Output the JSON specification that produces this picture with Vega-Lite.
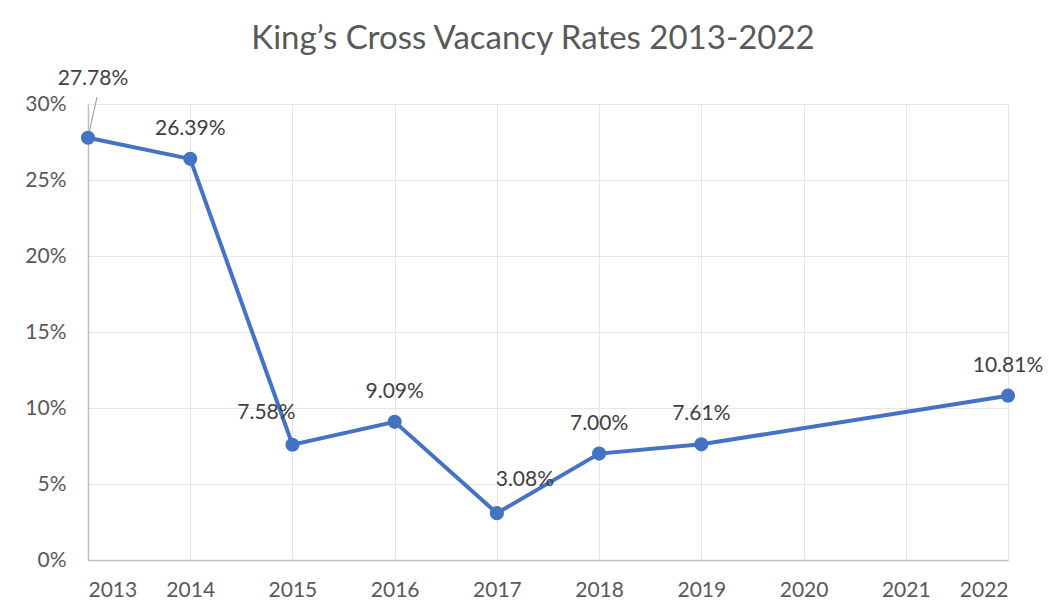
{
  "$schema": "https://vega.github.io/schema/vega-lite/v6.json",
  "width": 920,
  "height": 456,
  "autosize": "none",
  "padding": {"left": 88, "top": 104, "right": 41, "bottom": 56},
  "background": "white",
  "config": {
    "view": {"stroke": null},
    "font": "Lato",
    "axis": {"gridColor": "#e6e6e6", "gridWidth": 1, "domainColor": "#bfbfbf", "domainWidth": 1.5, "ticks": false, "labelColor": "#595959", "labelFont": "Lato", "labelFontSize": 21, "title": null}
  },
  "title": {"text": "King’s Cross Vacancy Rates 2013-2022", "font": "Lato", "fontSize": 33, "fontWeight": "normal", "color": "#595959", "anchor": "middle", "dx": -15, "offset": 12},
  "data": {"values": [
    {"year": 2013, "rate": 0.2778, "label": "27.78%"},
    {"year": 2014, "rate": 0.2639, "label": "26.39%"},
    {"year": 2015, "rate": 0.0758, "label": "7.58%"},
    {"year": 2016, "rate": 0.0909, "label": "9.09%"},
    {"year": 2017, "rate": 0.0308, "label": "3.08%"},
    {"year": 2018, "rate": 0.0700, "label": "7.00%"},
    {"year": 2019, "rate": 0.0761, "label": "7.61%"},
    {"year": 2022, "rate": 0.1081, "label": "10.81%"}
  ]},
  "encoding": {
    "x": {"field": "year", "type": "quantitative", "scale": {"domain": [2013, 2022], "nice": false, "zero": false},
      "axis": {"values": [2013, 2014, 2015, 2016, 2017, 2018, 2019, 2020, 2021, 2022], "format": "d", "labelPadding": 19, "domain": true}},
    "y": {"field": "rate", "type": "quantitative", "scale": {"domain": [0, 0.3], "nice": false},
      "axis": {"values": [0, 0.05, 0.1, 0.15, 0.2, 0.25, 0.3], "format": ".0%", "labelPadding": 22}}
  },
  "layer": [
    {
      "transform": [{"filter": "datum.year == 2013"}],
      "mark": {"type": "rule", "color": "#a6a6a6", "strokeWidth": 1.2, "clip": false},
      "encoding": {"x2": {"datum": 2013.088}, "y2": {"datum": 0.3046}}
    },
    {"mark": {"type": "line", "color": "#4472C4", "strokeWidth": 4}},
    {"mark": {"type": "point", "filled": true, "color": "#4472C4", "size": 200, "opacity": 1}},
    {
      "transform": [{"filter": "datum.year == 2014 || datum.year == 2016 || datum.year == 2018 || datum.year == 2019 || datum.year == 2022"}],
      "mark": {"type": "text", "fontSize": 21, "color": "#404040", "dy": -30, "baseline": "middle", "font": "Lato"},
      "encoding": {"text": {"field": "label"}}
    },
    {
      "transform": [{"filter": "datum.year == 2013"}],
      "mark": {"type": "text", "fontSize": 21, "color": "#404040", "dx": 5, "dy": -59, "baseline": "middle", "font": "Lato"},
      "encoding": {"text": {"field": "label"}}
    },
    {
      "transform": [{"filter": "datum.year == 2015"}],
      "mark": {"type": "text", "fontSize": 21, "color": "#404040", "dx": -26, "dy": -32, "baseline": "middle", "font": "Lato"},
      "encoding": {"text": {"field": "label"}}
    },
    {
      "transform": [{"filter": "datum.year == 2017"}],
      "mark": {"type": "text", "fontSize": 21, "color": "#404040", "dx": 28, "dy": -33, "baseline": "middle", "font": "Lato"},
      "encoding": {"text": {"field": "label"}}
    }
  ]
}
